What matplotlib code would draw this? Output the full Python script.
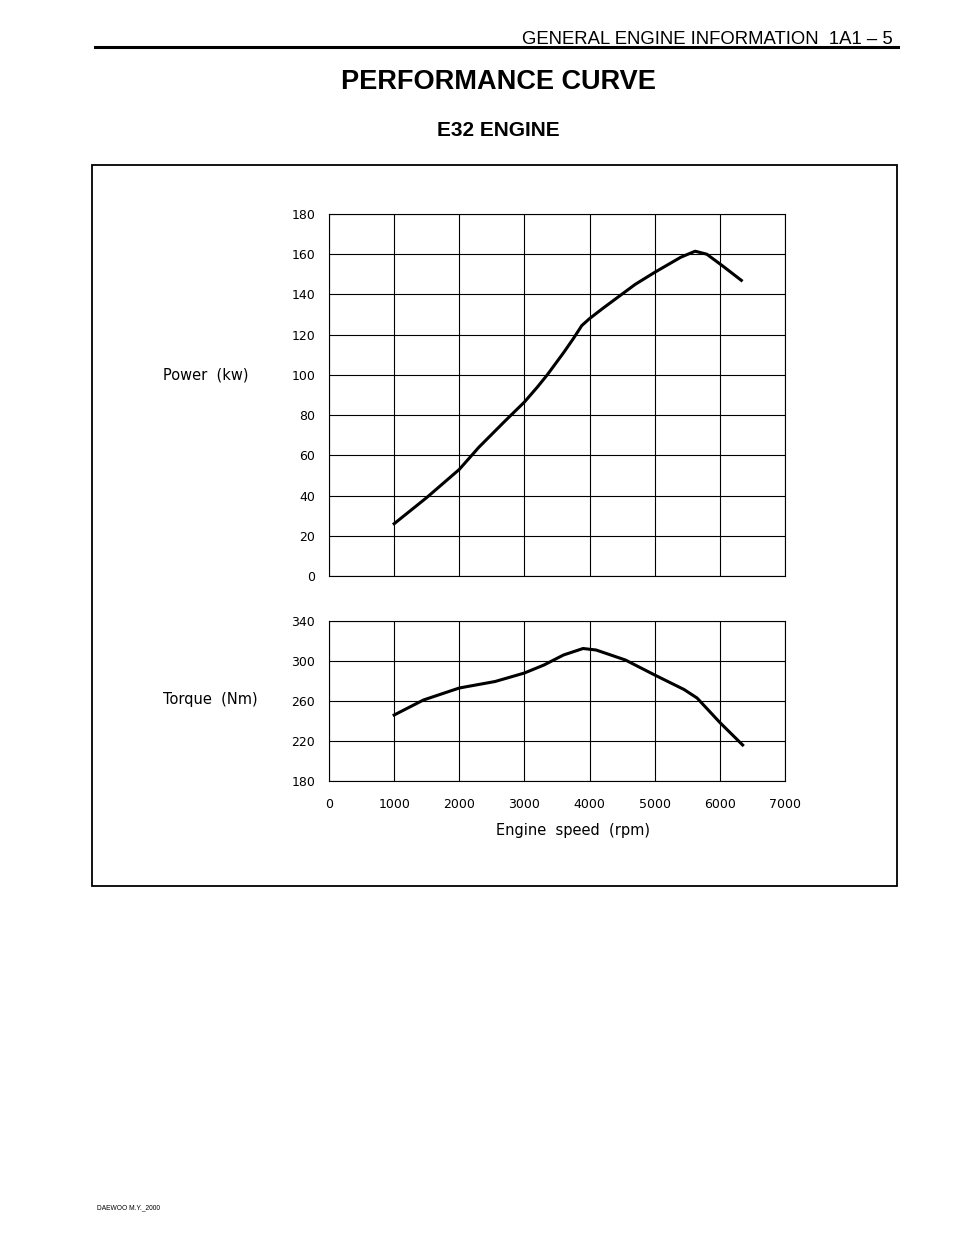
import matplotlib.pyplot as plt
from matplotlib.patches import Rectangle
from matplotlib.lines import Line2D

plt.rcParams['font.family'] = ['DejaVu Sans']

# power curve (rpm, kW)
power_rpm = [1000, 1500, 2000, 2300, 2700, 3000, 3200, 3350, 3600, 3750, 3880, 4000,
             4200, 4450, 4700, 5000, 5400, 5620, 5800, 6050, 6330]
power_kw = [26, 39, 53, 64, 77, 86.5, 94, 100, 111, 118, 124.5, 128,
            133, 139, 145, 151, 158.5, 161.5, 160, 154, 147]

# torque curve (rpm, Nm)
torque_rpm = [1000, 1450, 2000, 2550, 3000, 3300, 3600, 3900, 4100, 4550, 5000,
              5450, 5650, 6000, 6350]
torque_nm = [246, 261, 273, 279.5, 288, 296, 306, 312.5, 311, 301, 286,
             271.5, 263, 238.5, 216]

rpm_ticks = [0, 1000, 2000, 3000, 4000, 5000, 6000, 7000]
power_ticks = [0, 20, 40, 60, 80, 100, 120, 140, 160, 180]
torque_ticks = [180, 220, 260, 300, 340]

W, H = 960, 1242
fig = plt.figure(figsize=(W / 100, H / 100), dpi=100)


def fx(px):
    return px / W


def fy(py):
    return 1 - py / H


helv = ['Liberation Sans', 'DejaVu Sans']

# page header
fig.text(fx(893), fy(39), 'GENERAL ENGINE INFORMATION  1A1 – 5', ha='right', va='center',
         fontsize=13.3, family=helv)
fig.add_artist(Line2D([fx(95), fx(898)], [fy(47), fy(47)], color='black', lw=2.2))
fig.text(fx(498), fy(82), 'PERFORMANCE CURVE', ha='center', va='center',
         fontsize=19.5, fontweight='bold', family=helv)
fig.text(fx(498), fy(131), 'E32 ENGINE', ha='center', va='center',
         fontsize=15, fontweight='bold', family=helv)

# frame around the chart
fig.add_artist(Rectangle((fx(92), fy(886)), fx(897) - fx(92), fy(165) - fy(886),
                         fill=False, edgecolor='black', lw=1.3))


def style(ax, yticks):
    ax.set_xlim(0, 7000)
    ax.set_xticks(rpm_ticks)
    ax.set_ylim(yticks[0], yticks[-1])
    ax.set_yticks(yticks)
    ax.grid(True, color='black', lw=0.8)
    for s in ax.spines.values():
        s.set_linewidth(0.8)
    ax.tick_params(length=0, labelsize=9)
    ax.tick_params(axis='y', pad=10)
    ax.tick_params(axis='x', pad=12)


ax1 = fig.add_axes([fx(329), fy(576), fx(785) - fx(329), fy(214) - fy(576)])
ax1.plot(power_rpm, power_kw, color='black', lw=2.2)
style(ax1, power_ticks)
ax1.set_xticklabels([])

ax2 = fig.add_axes([fx(329), fy(781), fx(785) - fx(329), fy(621) - fy(781)])
ax2.plot(torque_rpm, torque_nm, color='black', lw=2.2)
style(ax2, torque_ticks)

fig.text(fx(163), fy(375), 'Power  (kw)', ha='left', va='center', fontsize=10.5)
fig.text(fx(163), fy(700), 'Torque  (Nm)', ha='left', va='center', fontsize=10.5)
fig.text(fx(573), fy(830), 'Engine  speed  (rpm)', ha='center', va='center', fontsize=10.5)

fig.text(fx(97), fy(1208), 'DAEWOO M.Y._2000', ha='left', va='center', fontsize=4.8,
         family=helv)

fig.savefig('out.png', dpi=100, facecolor='white')
